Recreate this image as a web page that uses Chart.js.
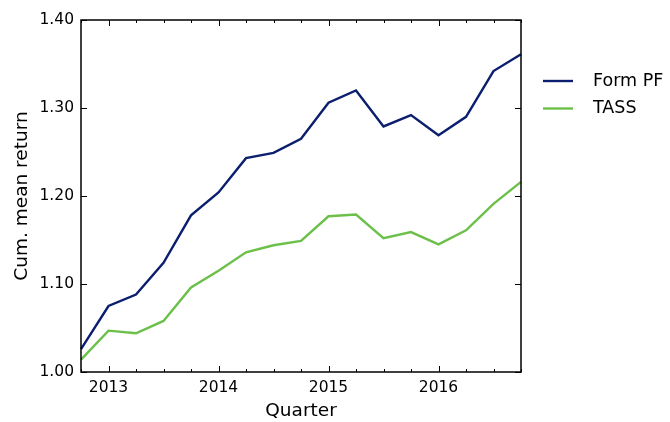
<!DOCTYPE html>
<html>
<head>
<meta charset="utf-8">
<script src="https://cdn.jsdelivr.net/npm/chart.js@4/dist/chart.umd.min.js"></script>
<style>
  body { margin: 0; background: #fff; }
  canvas { display: block; }
</style>
</head>
<body>
<canvas id="chart" width="670" height="422"></canvas>
<script>
const quarters = ['2012Q4', '2013Q1', '2013Q2', '2013Q3', '2013Q4', '2014Q1', '2014Q2', '2014Q3', '2014Q4',
  '2015Q1', '2015Q2', '2015Q3', '2015Q4', '2016Q1', '2016Q2', '2016Q3', '2016Q4'];
const formPF = [1.026, 1.075, 1.088, 1.124, 1.178, 1.204, 1.243, 1.249, 1.265,
  1.306, 1.320, 1.279, 1.292, 1.269, 1.290, 1.342, 1.361];
const tass = [1.014, 1.047, 1.044, 1.058, 1.096, 1.115, 1.136, 1.144, 1.149,
  1.177, 1.179, 1.152, 1.159, 1.145, 1.161, 1.191, 1.216];
const yTicks = [1.00, 1.10, 1.20, 1.30, 1.40];

const FONT = '"DejaVu Sans", sans-serif';
const navy = '#0c1f6e';
const green = '#6cc04a';

// matplotlib-style frame with inward ticks on all four sides
const framePlugin = {
  id: 'frame',
  afterDraw(chart) {
    const { ctx, chartArea: a, scales } = chart;
    ctx.save();
    ctx.strokeStyle = '#000';
    ctx.lineWidth = 1;
    ctx.beginPath();
    quarters.forEach((q, i) => {
      const x = Math.round(scales.x.getPixelForValue(i)) + 0.5;
      const len = q.endsWith('Q1') ? 6 : 3;
      ctx.moveTo(x, a.bottom); ctx.lineTo(x, a.bottom - len);
      ctx.moveTo(x, a.top); ctx.lineTo(x, a.top + len);
    });
    yTicks.forEach(v => {
      const y = Math.round(scales.y.getPixelForValue(v)) + 0.5;
      ctx.moveTo(a.left, y); ctx.lineTo(a.left + 6, y);
      ctx.moveTo(a.right, y); ctx.lineTo(a.right - 6, y);
    });
    ctx.stroke();
    ctx.lineWidth = 1.5;
    ctx.strokeRect(a.left, a.top, a.right - a.left, a.bottom - a.top);

    // legend outside the plot, on the right
    chart.data.datasets.forEach((ds, i) => {
      const y = a.top + 61 + i * 27.5;
      ctx.strokeStyle = ds.borderColor;
      ctx.lineWidth = 2.4;
      ctx.beginPath();
      ctx.moveTo(a.right + 22, y);
      ctx.lineTo(a.right + 52, y);
      ctx.stroke();
      ctx.fillStyle = '#000';
      ctx.font = '17.5px ' + FONT;
      ctx.textBaseline = 'middle';
      ctx.fillText(ds.label, a.right + 72, y);
    });
    ctx.restore();
  }
};

new Chart(document.getElementById('chart'), {
  type: 'line',
  data: {
    labels: quarters,
    datasets: [
      { label: 'Form PF', data: formPF, borderColor: navy, borderWidth: 2.4, pointRadius: 0, tension: 0 },
      { label: 'TASS', data: tass, borderColor: green, borderWidth: 2.4, pointRadius: 0, tension: 0 }
    ]
  },
  options: {
    responsive: false,
    animation: false,
    layout: { padding: { top: 20, right: 149, bottom: 0, left: 0 } },
    plugins: { legend: { display: false }, tooltip: { enabled: false } },
    scales: {
      x: {
        type: 'category',
        offset: false,
        grid: { display: false, drawTicks: false },
        border: { display: false },
        ticks: {
          autoSkip: false,
          maxRotation: 0,
          padding: 7,
          color: '#000',
          font: { family: FONT, size: 15.5 },
          callback: (v, i) => quarters[i].endsWith('Q1') ? quarters[i].slice(0, 4) : ''
        },
        title: { display: true, text: 'Quarter', color: '#000', font: { family: FONT, size: 18.5 }, padding: { top: 0, bottom: 0 } },
        afterFit: s => { s.height = 50; }
      },
      y: {
        min: 1.0,
        max: 1.4,
        grid: { display: false, drawTicks: false },
        border: { display: false },
        afterBuildTicks: s => { s.ticks = yTicks.map(v => ({ value: v })); },
        ticks: {
          padding: 7,
          color: '#000',
          font: { family: FONT, size: 15.5 },
          callback: v => Number(v).toFixed(2)
        },
        title: { display: true, text: 'Cum. mean return', color: '#000', font: { family: FONT, size: 18.5 }, padding: { top: 11, bottom: 0 } },
        afterFit: s => { s.width = 81; }
      }
    }
  },
  plugins: [framePlugin]
});
</script>
</body>
</html>
